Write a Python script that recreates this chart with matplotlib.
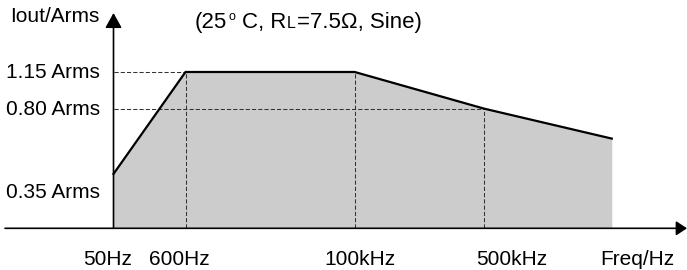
import matplotlib
matplotlib.use("Agg")
import matplotlib.pyplot as plt

plt.rcParams["font.family"] = ["Liberation Sans", "DejaVu Sans"]

# schematic break points of the derating curve (position along the frequency axis, Arms level)
curve_x = [0.0, 1.0, 3.35, 5.15, 6.92]
curve_y = [0.40, 1.15, 1.15, 0.88, 0.66]

freq_labels = ["50Hz", "600Hz", "100kHz", "500kHz", "Freq/Hz"]
freq_label_x = [-0.08, 0.92, 3.42, 5.53, 7.28]

level_labels = ["0.35 Arms", "0.80 Arms", "1.15 Arms"]
level_label_y = [0.2675, 0.88, 1.15]

FONT = 15
TITLE_FONT = 16

fig = plt.figure(figsize=(6.87, 2.70), dpi=100)
ax = fig.add_axes([5 / 687, 41.7 / 270, 682 / 687, 215.3 / 270])
ax.set_xlim(-1.507, 7.965)
ax.set_ylim(0, 1.584)
ax.axis("off")

ax.fill_between(curve_x, 0, curve_y, color="#cccccc", lw=0, zorder=1)

dash = dict(color="#333333", lw=0.75, linestyle=(0, (4, 2)), zorder=2)
for i in (1, 2, 3):
    ax.plot([curve_x[i], curve_x[i]], [0, curve_y[i]], **dash)
ax.plot([0, curve_x[1]], [curve_y[1], curve_y[1]], **dash)
ax.plot([0, curve_x[3]], [curve_y[3], curve_y[3]], **dash)

ax.plot(curve_x, curve_y, color="black", lw=1.6, solid_joinstyle="miter", zorder=3)

# axes with arrow heads
ax.annotate("", xy=(1, 0), xytext=(0, 0), xycoords="axes fraction",
            arrowprops=dict(arrowstyle="-|>,head_length=0.65,head_width=0.43",
                            lw=1.2, color="black", shrinkA=0, shrinkB=0,
                            mutation_scale=10), zorder=4)
ax.annotate("", xy=(0, 1), xytext=(0, 0), xycoords=ax.get_xaxis_transform(),
            arrowprops=dict(arrowstyle="-|>,head_length=0.9,head_width=0.5",
                            lw=1.2, color="black", shrinkA=0, shrinkB=0,
                            mutation_scale=10), zorder=4)

for label, x in zip(freq_labels, freq_label_x):
    ax.text(x, -0.1705, label, transform=ax.get_xaxis_transform(),
            ha="center", va="baseline", fontsize=FONT)

for label, y in zip(level_labels, level_label_y):
    ax.annotate(label, xy=(0, y), xytext=(-9.7, -4.2), textcoords="offset points",
                ha="right", va="baseline", fontsize=FONT)

fig.text(10 / 687, 248 / 270, "Iout/Arms", ha="left", va="baseline", fontsize=FONT)

# title built from pieces: superscript degree sign and small-cap L, all on one baseline
title_y = 242 / 270
pieces = [
    ("(25", TITLE_FONT, 0, 0),
    ("o", 9, 0.6, 6.0),
    ("C, R", TITLE_FONT, 5.0, 0),
    ("L", 11.5, 0, 0),
    ("=7.5\u03a9, Sine)", TITLE_FONT, 1.0, 0),
]
prev = fig.text(195 / 687, title_y, pieces[0][0], ha="left", va="baseline",
                fontsize=TITLE_FONT)
for text, size, dx, dy in pieces[1:]:
    prev = ax.annotate(text, xy=(1, title_y), xycoords=(prev, "figure fraction"),
                       xytext=(dx, dy), textcoords="offset points",
                       ha="left", va="baseline", fontsize=size)

fig.savefig("out.png", dpi=100)
